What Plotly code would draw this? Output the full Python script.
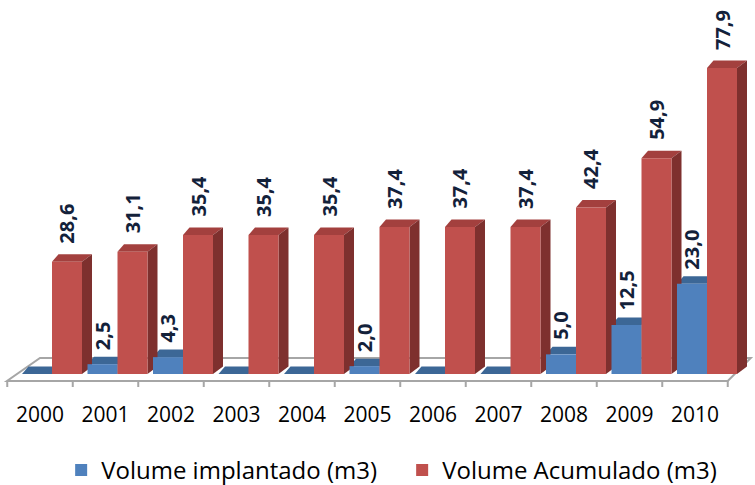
import plotly.graph_objects as go

years = ["2000", "2001", "2002", "2003", "2004", "2005", "2006", "2007", "2008", "2009", "2010"]
implantado = [0.0, 2.5, 4.3, 0.0, 0.0, 2.0, 0.0, 0.0, 5.0, 12.5, 23.0]
acumulado = [28.6, 31.1, 35.4, 35.4, 35.4, 37.4, 37.4, 37.4, 42.4, 54.9, 77.9]
series_names = ["Volume implantado (m3)", "Volume Acumulado (m3)"]

# geometry (pixel-derived scale factors)
PX_X = 65.5          # pixels per category
PX_Y = 3.928         # pixels per value unit
W = 30 / PX_X        # bar width in category units
OFF = [-3 / PX_X, 27 / PX_X]   # bar centre offsets
DXL, DXR = 6.5 / PX_X, 10 / PX_X   # depth shift (left/right) of back edge
DY = 7.5 / PX_Y                    # depth shift up

front = ["#4F81BD", "#C0504D"]
top_c = ["#3C6796", "#A3403E"]
side_c = ["#2F5078", "#7E302E"]
label_color = "#13213A"
FONT = "Open Sans"

n = len(years)
xs = list(range(n))
data = [implantado, acumulado]

fig = go.Figure()
shapes = []

# floor outline
fy0 = -7 / PX_Y
fy1 = 16 / PX_Y
floor_path = (f"M -0.504 {fy0} L {n - 0.5} {fy0} "
              f"L {n - 0.5 + 23 / PX_X} {fy1} L 0 {fy1} Z")
shapes.append(dict(type="path", path=floor_path, xref="x", yref="y", layer="below",
                   line=dict(color="#A6A6A6", width=2), fillcolor="rgba(255,255,255,0)"))
# tick marks along floor front edge
for i in range(n + 1):
    shapes.append(dict(type="line", xref="x", yref="y", layer="below",
                       x0=i - 0.5, x1=i - 0.5, y0=fy0, y1=fy0 - 6 / PX_Y,
                       line=dict(color="#A6A6A6", width=2)))

annotations = []
for s in range(2):
    xpos = [x + OFF[s] for x in xs]
    fig.add_trace(go.Bar(
        x=xpos, y=data[s], width=W, name=series_names[s],
        marker=dict(color=front[s], line=dict(width=0)),
        hoverinfo="skip",
    ))
    for x, v in zip(xpos, data[s]):
        x0, x1 = x - W / 2, x + W / 2
        # top face
        shapes.append(dict(type="path", xref="x", yref="y", layer="below",
                           path=f"M {x0} {v} L {x1} {v} L {x1 + DXR} {v + DY} L {x0 + DXL} {v + DY} Z",
                           fillcolor=top_c[s], line=dict(width=0)))
        # side face
        if v > 0:
            shapes.append(dict(type="path", xref="x", yref="y", layer="below",
                               path=f"M {x1} 0 L {x1} {v} L {x1 + DXR} {v + DY} L {x1 + DXR} {DY} Z",
                               fillcolor=side_c[s], line=dict(width=0)))
        if v > 0:
            annotations.append(dict(
                x=x, y=v, xref="x", yref="y", text=f"{v:.1f}".replace(".", ","),
                textangle=-90, showarrow=False, yanchor="bottom", xanchor="center",
                yshift=16 if s == 1 else 12,
                font=dict(family=FONT, size=20, color=label_color, weight="bold"),
            ))

fig.update_layout(
    width=755, height=485,
    margin=dict(l=0, r=0, t=0, b=85),
    paper_bgcolor="white", plot_bgcolor="rgba(0,0,0,0)",
    barmode="overlay",
    shapes=shapes, annotations=annotations,
    showlegend=True,
    legend=dict(orientation="h", yref="container", y=0.03, yanchor="middle",
                x=0.081, xanchor="left", font=dict(family=FONT, size=24, color="black"),
                entrywidth=296, entrywidthmode="pixels", traceorder="normal"),
    font=dict(family=FONT),
)
fig.update_xaxes(range=[-40 / PX_X, 715 / PX_X], tickvals=xs, ticktext=years,
                 showgrid=False, zeroline=False, showline=False, ticks="",
                 tickfont=dict(family=FONT, size=21, color="black"), fixedrange=True)
fig.update_yaxes(range=[-26 / PX_Y, 374 / PX_Y], showgrid=False, zeroline=False,
                 showline=False, showticklabels=False, ticks="", fixedrange=True)

fig.write_html("out.html", config={"displayModeBar": False},
               post_script="document.body.style.margin='0';")
